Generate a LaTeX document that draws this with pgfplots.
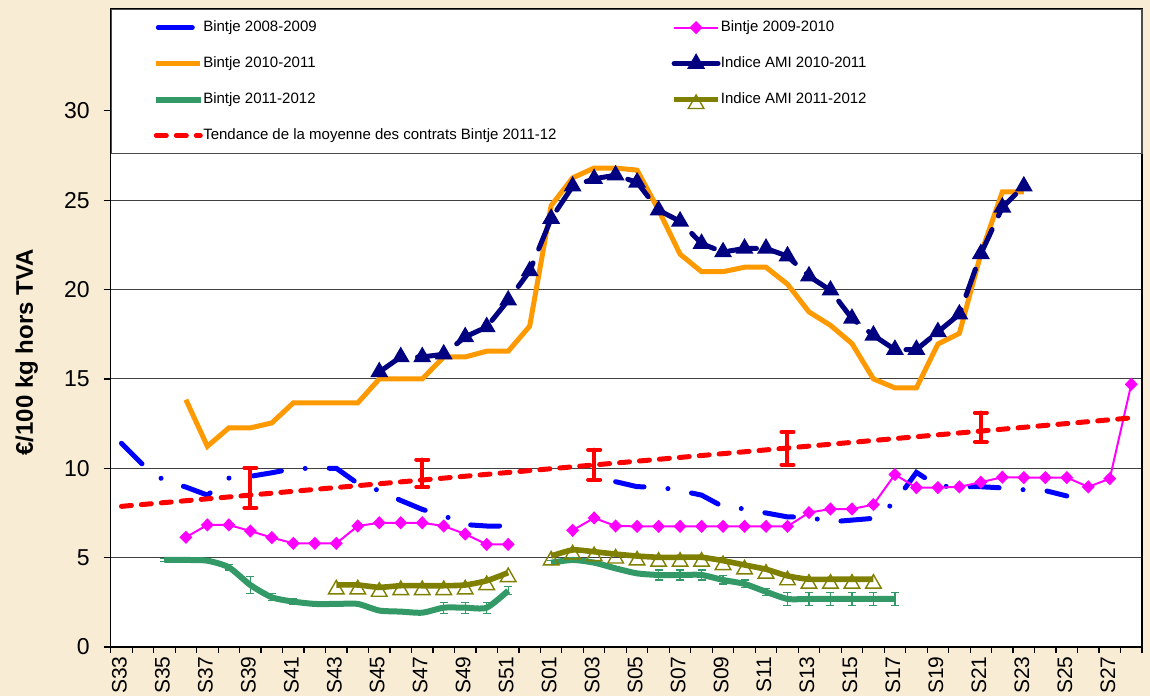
\documentclass[border=0pt]{standalone}
\usepackage{fontspec}
\setmainfont{Liberation Sans}
\usepackage{pgfplots}
\pgfplotsset{compat=1.18}
\definecolor{bg}{RGB}{248,236,212}
\definecolor{cblue}{RGB}{0,0,255}
\definecolor{cpink}{RGB}{255,0,255}
\definecolor{corange}{RGB}{255,153,0}
\definecolor{cnavy}{RGB}{0,0,128}
\definecolor{cgreen}{RGB}{51,153,102}
\definecolor{colive}{RGB}{128,128,0}
\definecolor{cred}{RGB}{255,0,0}
\begin{document}
\begin{tikzpicture}
\fill[bg] (-55.35pt,-24.5pt) rectangle (519.65pt,323.5pt);
\begin{axis}[
  at={(0,0)}, anchor=south west,
  scale only axis, width=515.65pt, height=319pt,
  xmin=-0.5, xmax=47.5, ymin=0, ymax=35.7,
  axis background/.style={fill=white},
  axis line style={black, line width=0.8pt},
  xtick={0,2,...,46},
  xticklabels={S33,S35,S37,S39,S41,S43,S45,S47,S49,S51,S01,S03,S05,S07,S09,S11,S13,S15,S17,S19,S21,S23,S25,S27},
  minor xtick={-0.5,0.5,...,47.5},
  ytick={0,5,...,30},
  tick pos=left,
  tick align=outside,
  major tick length=3.5pt,
  minor tick length=3pt,
  every major x tick/.append style={draw=none},
  every tick/.append style={black, line width=0.6pt},
  every minor tick/.append style={black, line width=0.6pt},
  ymajorgrids,
  grid style={black!75, line width=0.5pt},
  tick label style={font=\fontsize{11.5}{13}\selectfont},
  /pgf/number format/assume math mode=true,
  xticklabel style={rotate=90, anchor=east, inner sep=1pt, yshift=1pt, font=\fontsize{10.5}{12}\selectfont},
  yticklabel style={xshift=-3.5pt},
  ylabel={\textbf{€/100 kg hors TVA}},
  every axis y label/.style={at={(rel axis cs:0,0.462)}, xshift=-42pt, rotate=90, anchor=center, font=\fontsize{12}{14}\selectfont},
  legend columns=2,
  legend cell align=left,
  legend style={
    at={(rel axis cs:0,1)}, anchor=north west,
    draw=black!70, line width=0.6pt, fill=white,
    font=\fontsize{7.5}{9}\selectfont,
    inner xsep=21pt, inner ysep=0pt,
    column sep=0pt, row sep=0pt,
    nodes={inner sep=0pt, minimum height=18pt},
  },
  legend image code/.code={\draw[mark repeat=2, mark phase=2, #1] plot coordinates {(0pt,0pt) (11pt,0pt) (22pt,0pt)};},
]
% Bintje 2008-2009
\addplot[cblue, line width=2.5pt, line cap=round, dash pattern=on 14.5pt off 12pt on 0pt off 12pt, mark=none,
  legend image code/.code={\draw[cblue, solid, line width=2.5pt, line cap=round] (1pt,0pt) -- (18pt,0pt);}] coordinates {
(0,11.4) (1,10.2) (2,9.3) (3,8.95) (4,8.5) (5,9.45) (6,9.55) (7,9.75) (8,9.98) (9,10.0) (10,10.0) (11,9.15) (12,8.75) (13,8.2) (14,7.7) (15,7.35) (16,6.85) (17,6.77) (18,6.77)};
\addplot[cblue, line width=2.5pt, line cap=round, dash pattern=on 14.5pt off 12pt on 0pt off 12pt, mark=none, forget plot] coordinates {
(23,9.25) (24,8.97) (25,8.95) (26,8.75) (27,8.5) (28,7.85) (29,7.73) (30,7.5) (31,7.28) (32,7.26) (33,7.0) (34,7.1) (35,7.2) (36,8.1) (37,9.77) (38,9.0) (39,8.97) (40,8.97) (41,8.9) (42,8.8) (43,8.75) (44,8.45)};
% Bintje 2009-2010
\addplot[cpink, line width=1pt, mark=diamond*, mark size=2.6pt, mark options={solid, xscale=1.3}] coordinates {
(3,6.14) (4,6.83) (5,6.83) (6,6.49) (7,6.12) (8,5.8) (9,5.8) (10,5.8) (11,6.77) (12,6.95) (13,6.95) (14,6.95) (15,6.77) (16,6.32) (17,5.74) (18,5.74)};
\addplot[cpink, line width=1pt, mark=diamond*, mark size=2.6pt, mark options={solid, xscale=1.3}, forget plot] coordinates {
(21,6.53) (22,7.22) (23,6.77) (24,6.75) (25,6.75) (26,6.75) (27,6.75) (28,6.75) (29,6.75) (30,6.75) (31,6.75) (32,7.52) (33,7.72) (34,7.72) (35,7.97) (36,9.65) (37,8.92) (38,8.92) (39,8.96) (40,9.22) (41,9.5) (42,9.48) (43,9.48) (44,9.48) (45,8.96) (46,9.42) (47,14.7)};
% Bintje 2010-2011
\addplot[corange, line width=2.5pt, mark=none] coordinates {
(3,13.84) (4,11.23) (5,12.26) (6,12.26) (7,12.54) (8,13.66) (9,13.66) (10,13.66) (11,13.66) (12,15.0) (13,15.0) (14,15.0) (15,16.23) (16,16.23) (17,16.55) (18,16.55) (19,17.95) (20,24.7) (21,26.25) (22,26.8) (23,26.8) (24,26.68) (25,24.45) (26,21.98) (27,21.0) (28,21.0) (29,21.25) (30,21.25) (31,20.3) (32,18.75) (33,18.0) (34,16.98) (35,15.0) (36,14.5) (37,14.5) (38,16.95) (39,17.55) (40,22.0) (41,25.47) (42,25.47)};
% Indice AMI 2010-2011
\addplot[cnavy, line width=2.5pt, line cap=round, dash pattern=on 14pt off 7.5pt, mark=triangle*, mark size=2.7pt, mark options={solid},
  legend image code/.code={\draw[cnavy, solid, line width=2.5pt, mark=triangle*, mark size=2.7pt, mark repeat=2, mark phase=2] plot coordinates {(0pt,0pt) (11pt,0pt) (22pt,0pt)};}] coordinates {
(12,15.39) (13,16.23) (14,16.23) (15,16.38) (16,17.35) (17,17.91) (18,19.4) (19,21.04) (20,23.97) (21,25.78) (22,26.2) (23,26.4) (24,26.0) (25,24.44) (26,23.82) (27,22.57) (28,22.1) (29,22.3) (30,22.3) (31,21.87) (32,20.75) (33,19.96) (34,18.38) (35,17.44) (36,16.64) (37,16.64) (38,17.63) (39,18.62) (40,22.0) (41,24.6) (42,25.78)};
% Bintje 2011-2012
\addplot[cgreen, line width=3pt, smooth, tension=0.4, mark=none,
  error bars/.cd, y dir=both, y explicit,
  error bar style={line width=0.6pt, solid},
  error mark options={rotate=90, mark size=2pt, line width=0.6pt}] coordinates {
(2,4.87) +- (0,0.1) (3,4.87) +- (0,0.08) (4,4.83) +- (0,0.08) (5,4.46) +- (0,0.15) (6,3.47) +- (0,0.48) (7,2.78) +- (0,0.2) (8,2.54) +- (0,0.17) (9,2.41) +- (0,0) (10,2.41) +- (0,0) (11,2.41) +- (0,0) (12,2.04) +- (0,0) (13,1.98) +- (0,0) (14,1.92) +- (0,0) (15,2.2) +- (0,0.31) (16,2.2) +- (0,0.31) (17,2.2) +- (0,0.31) (18,3.15) +- (0,0.23)};
\addplot[cgreen, line width=3pt, smooth, tension=0.4, mark=none, forget plot,
  error bars/.cd, y dir=both, y explicit,
  error bar style={line width=0.6pt, solid},
  error mark options={rotate=90, mark size=2pt, line width=0.6pt}] coordinates {
(20,4.72) +- (0,0.1) (21,4.87) +- (0,0.08) (22,4.72) +- (0,0.12) (23,4.4) +- (0,0.08) (24,4.12) +- (0,0.08) (25,4.03) +- (0,0.28) (26,4.03) +- (0,0.28) (27,4.03) +- (0,0.28) (28,3.75) +- (0,0.23) (29,3.53) +- (0,0.22) (30,3.09) +- (0,0.2) (31,2.69) +- (0,0.35) (32,2.69) +- (0,0.35) (33,2.69) +- (0,0.35) (34,2.69) +- (0,0.35) (35,2.69) +- (0,0.35) (36,2.69) +- (0,0.35)};
% Indice AMI 2011-2012
\addplot[colive, line width=2.8pt, smooth, tension=0.4, mark=triangle, mark size=4.5pt, mark options={solid, line width=0.7pt, yshift=-2.2pt}] coordinates {
(10,3.47) (11,3.47) (12,3.34) (13,3.43) (14,3.43) (15,3.43) (16,3.47) (17,3.71) (18,4.16)};
\addplot[colive, line width=2.8pt, smooth, tension=0.4, mark=triangle, mark size=4.5pt, mark options={solid, line width=0.7pt, yshift=-2.2pt}, forget plot] coordinates {
(20,5.09) (21,5.43) (22,5.33) (23,5.2) (24,5.09) (25,5.02) (26,5.02) (27,5.02) (28,4.83) (29,4.59) (30,4.35) (31,3.98) (32,3.79) (33,3.79) (34,3.79) (35,3.79)};
% Tendance
\addplot[cred, line width=2.5pt, line cap=round, dash pattern=on 5pt off 5pt, mark=none] coordinates {(0,7.87) (47,12.82)};
\addplot[draw=none, mark=none, forget plot,
  error bars/.cd, y dir=both, y explicit,
  error bar style={draw=cred, line width=2pt, line cap=round, solid},
  error mark options={draw=cred, rotate=90, mark size=3pt, line width=2pt, line cap=round}] coordinates {
(6,8.91) +- (0,1.11) (14,9.72) +- (0,0.77) (22,10.2) +- (0,0.84) (31,11.12) +- (0,0.92) (40,12.3) +- (0,0.82)};
\legend{\makebox[234pt][l]{Bintje 2008-2009}, \makebox[189.5pt][l]{Bintje 2009-2010}, \makebox[234pt][l]{Bintje 2010-2011}, \makebox[189.5pt][l]{Indice AMI 2010-2011}, \makebox[234pt][l]{Bintje 2011-2012}, \makebox[189.5pt][l]{Indice AMI 2011-2012}, \makebox[234pt][l]{Tendance de la moyenne des contrats Bintje 2011-12}}
\end{axis}
\pgfresetboundingbox
\useasboundingbox (-55.35pt,-24.5pt) rectangle (519.65pt,323.5pt);
\end{tikzpicture}
\end{document}
